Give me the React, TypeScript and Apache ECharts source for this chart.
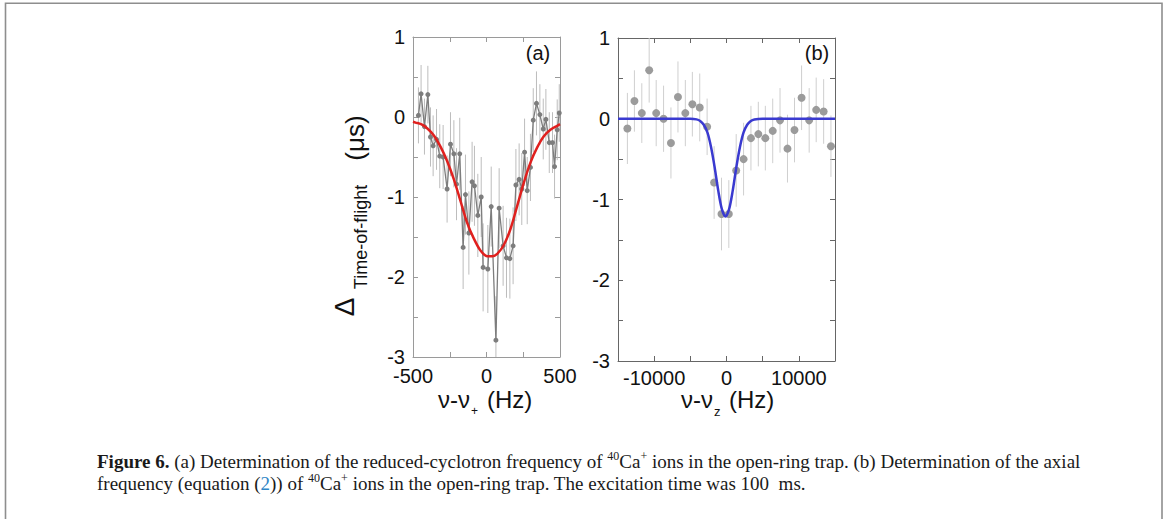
import React, { useEffect, useRef } from "react";
import * as echarts from "echarts";

// Panel (a): reduced-cyclotron resonance
const aX = [-463, -445, -422, -399, -381, -363, -340, -318, -295, -268, -245, -222, -204, -182, -159, -143, -120, -98, -82, -59, -36, -23, 9, 32, 64, 86, 113, 136, 159, 181, 200, 222, 240, 259, 277, 299, 318, 340, 363, 386, 404, 427, 449, 463, 481, 495];
const aY = [0.02, 0.29, -0.12, 0.28, -0.25, -0.36, -0.28, -0.49, -0.5, -0.9, -0.34, -0.46, -0.84, -0.46, -1.63, -0.97, -1.45, -0.81, -0.86, -1.23, -1.0, -1.88, -1.9, -1.12, -2.79, -1.14, -1.61, -1.76, -1.77, -1.61, -0.85, -0.78, -0.9, -0.44, -0.92, -0.63, -0.04, 0.17, 0.03, -0.15, -0.03, -0.32, -0.32, -0.62, -0.16, 0.05];
const aErr = [0.35, 0.36, 0.35, 0.36, 0.37, 0.38, 0.38, 0.4, 0.4, 0.42, 0.4, 0.42, 0.45, 0.45, 0.52, 0.5, 0.52, 0.5, 0.5, 0.52, 0.5, 0.55, 0.55, 0.5, 0.55, 0.5, 0.5, 0.5, 0.5, 0.48, 0.45, 0.45, 0.45, 0.42, 0.42, 0.42, 0.4, 0.4, 0.38, 0.38, 0.38, 0.38, 0.38, 0.4, 0.38, 0.36];
const aFitX = [-500, -483, -445, -404, -358, -313, -268, -222, -177, -132, -86, -41, 5, 39, 73, 118, 163, 209, 254, 299, 345, 390, 435, 481, 500];
const aFitY = [-0.06, -0.07, -0.09, -0.14, -0.23, -0.37, -0.55, -0.78, -1.05, -1.32, -1.52, -1.67, -1.74, -1.74, -1.71, -1.6, -1.4, -1.11, -0.82, -0.57, -0.38, -0.24, -0.16, -0.11, -0.09];

// Panel (b): axial resonance
const bX = [-13700, -12730, -11710, -10690, -9720, -8700, -7680, -6710, -5690, -4720, -3700, -2680, -1710, -690, 320, 1340, 2360, 3380, 4400, 5370, 6390, 7400, 8430, 9400, 10380, 11430, 12400, 13430, 14440];
const bY = [-0.12, 0.22, 0.07, 0.6, 0.07, 0.0, -0.3, 0.27, 0.07, 0.18, 0.14, -0.1, -0.79, -1.18, -1.18, -0.64, -0.5, -0.24, -0.19, -0.24, -0.15, -0.02, -0.37, -0.14, 0.26, -0.02, 0.11, 0.09, -0.34];
const bErr = [0.44, 0.38, 0.37, 0.4, 0.41, 0.41, 0.44, 0.44, 0.41, 0.4, 0.42, 0.35, 0.45, 0.45, 0.42, 0.45, 0.45, 0.4, 0.4, 0.4, 0.4, 0.4, 0.42, 0.4, 0.4, 0.4, 0.4, 0.4, 0.38];
const bFitX = [-15000, -5000, -4140, -3640, -3140, -2640, -2140, -1640, -1140, -640, -140, 360, 860, 1360, 1860, 2360, 2860, 3360, 3860, 5000, 15000];
const bFitY = [0, 0, -0.008, -0.027, -0.074, -0.17, -0.35, -0.6, -0.89, -1.12, -1.21, -1.12, -0.89, -0.6, -0.35, -0.17, -0.074, -0.027, -0.008, 0, 0];

// Axis ticks / labels
const aXLabels = [-500, 0, 500];
const bXLabels = [-10000, 0, 10000];
const yLabels = [-3, -2, -1, 0, 1];

const FONT = "Liberation Sans, Arial, sans-serif";
const SERIF = "Liberation Serif, Times New Roman, serif";

function axisPair(
  gridIndex: number,
  min: number,
  max: number,
  interval: number,
  labels: number[],
  color: string,
  isX: boolean,
  margin: number
) {
  const common = {
    type: "value",
    gridIndex,
    min,
    max,
    interval,
    splitLine: { show: false },
    axisLine: { show: true, onZero: false, lineStyle: { color, width: 1 } },
    axisTick: { show: true, inside: true, length: 5, lineStyle: { color, width: 1 } },
  };
  const main = {
    ...common,
    position: isX ? "bottom" : "left",
    axisLabel: {
      show: true,
      margin,
      fontSize: 20,
      fontFamily: FONT,
      color: "#111",
      showMinLabel: true,
      showMaxLabel: true,
      formatter: (v: number) => (labels.some((l) => Math.abs(l - v) < 1e-6) ? String(v) : ""),
    },
  };
  const other = {
    ...common,
    position: isX ? "top" : "right",
    axisLabel: { show: false },
  };
  return [main, other];
}

export default function App() {
  const ref = useRef<HTMLDivElement>(null);
  useEffect(() => {
    if (!ref.current) return;
    const chart = echarts.init(ref.current, undefined, { renderer: "svg" });

    const errRender = (stroke: string, lo: number) => (params: any, api: any) => {
      const x = api.value(0);
      const y = api.value(1);
      const e = api.value(2);
      const p1 = api.coord([x, y + e]);
      const p2 = api.coord([x, Math.max(y - e, lo)]);
      return {
        type: "line",
        shape: { x1: p1[0], y1: p1[1], x2: p2[0], y2: p2[1] },
        style: { stroke, lineWidth: 1 },
      };
    };

    const xa = axisPair(0, -500, 500, 250, aXLabels, "#9a9a9a", true, 9);
    const xb = axisPair(1, -15000, 15000, 5000, bXLabels, "#666", true, 7);
    const ya = axisPair(0, -3, 1, 0.5, yLabels, "#9a9a9a", false, 8);
    const yb = axisPair(1, -3, 1, 0.5, yLabels, "#666", false, 8);

    const option: any = {
      animation: false,
      backgroundColor: "#fff",
      grid: [
        { left: 413, top: 37, width: 147, height: 320 },
        { left: 618, top: 38, width: 217, height: 323 },
      ],
      xAxis: [...xa, ...xb],
      yAxis: [...ya, ...yb],
      series: [
        {
          type: "custom",
          xAxisIndex: 0,
          yAxisIndex: 0,
          clip: true,
          renderItem: errRender("#bdbdbd", -3),
          encode: { x: 0, y: 1 },
          data: aX.map((x, i) => [x, aY[i], aErr[i]]),
          z: 1,
        },
        {
          type: "line",
          xAxisIndex: 0,
          yAxisIndex: 0,
          data: aX.map((x, i) => [x, aY[i]]),
          symbol: "circle",
          symbolSize: 5,
          lineStyle: { color: "#7d7d7d", width: 1.3 },
          itemStyle: { color: "#7d7d7d" },
          z: 2,
        },
        {
          type: "line",
          xAxisIndex: 0,
          yAxisIndex: 0,
          data: aFitX.map((x, i) => [x, aFitY[i]]),
          smooth: 0.3,
          showSymbol: false,
          symbol: "none",
          lineStyle: { color: "#e0201e", width: 2.5 },
          z: 3,
        },
        {
          type: "custom",
          xAxisIndex: 2,
          yAxisIndex: 2,
          clip: true,
          renderItem: errRender("#cfcfcf", -3),
          encode: { x: 0, y: 1 },
          data: bX.map((x, i) => [x, bY[i], bErr[i]]),
          z: 1,
        },
        {
          type: "scatter",
          xAxisIndex: 2,
          yAxisIndex: 2,
          data: bX.map((x, i) => [x, bY[i]]),
          symbol: "circle",
          symbolSize: 8,
          itemStyle: { color: "#9b9b9b", opacity: 1 },
          z: 2,
        },
        {
          type: "line",
          xAxisIndex: 2,
          yAxisIndex: 2,
          data: bFitX.map((x, i) => [x, bFitY[i]]),
          smooth: 0.3,
          showSymbol: false,
          symbol: "none",
          lineStyle: { color: "#3a3ad0", width: 2.5 },
          z: 3,
        },
      ],
      graphic: [
        {
          type: "rect",
          shape: { x: 5.5, y: 3.3, width: 1156.5, height: 600 },
          style: { fill: "none", stroke: "#8e8e8e", lineWidth: 1.6 },
          silent: true,
        },
        {
          type: "text",
          x: 538,
          y: 53,
          style: { text: "(a)", fontSize: 20, fontFamily: FONT, fill: "#111", textAlign: "center", align: "center", textVerticalAlign: "middle", verticalAlign: "middle" },
        },
        {
          type: "text",
          x: 817,
          y: 53,
          style: { text: "(b)", fontSize: 20, fontFamily: FONT, fill: "#111", textAlign: "center", align: "center", textVerticalAlign: "middle", verticalAlign: "middle" },
        },
        // y-axis title (rotated)
        {
          type: "text",
          x: 344,
          y: 307,
          rotation: Math.PI / 2,
          style: { text: "Δ", fontSize: 28, fontFamily: FONT, fill: "#111", textAlign: "center", align: "center", textVerticalAlign: "middle", verticalAlign: "middle" },
        },
        {
          type: "text",
          x: 361,
          y: 237,
          rotation: Math.PI / 2,
          style: { text: "Time-of-flight", fontSize: 18, fontFamily: FONT, fill: "#111", textAlign: "center", align: "center", textVerticalAlign: "middle", verticalAlign: "middle" },
        },
        {
          type: "text",
          x: 355,
          y: 138,
          rotation: Math.PI / 2,
          style: { text: "(μs)", fontSize: 26, fontFamily: FONT, fill: "#111", textAlign: "center", align: "center", textVerticalAlign: "middle", verticalAlign: "middle" },
        },
        // x-axis titles
        {
          type: "text",
          x: 470,
          y: 399,
          style: { text: "ν-ν", fontSize: 24, fontFamily: FONT, fill: "#111", textAlign: "right", align: "right", textVerticalAlign: "middle", verticalAlign: "middle" },
        },
        {
          type: "text",
          x: 471,
          y: 411,
          style: { text: "+", fontSize: 12, fontFamily: FONT, fill: "#111", textAlign: "left", align: "left", textVerticalAlign: "middle", verticalAlign: "middle" },
        },
        {
          type: "text",
          x: 487,
          y: 399,
          style: { text: "(Hz)", fontSize: 24, fontFamily: FONT, fill: "#111", textAlign: "left", align: "left", textVerticalAlign: "middle", verticalAlign: "middle" },
        },
        {
          type: "text",
          x: 713,
          y: 399,
          style: { text: "ν-ν", fontSize: 24, fontFamily: FONT, fill: "#111", textAlign: "right", align: "right", textVerticalAlign: "middle", verticalAlign: "middle" },
        },
        {
          type: "text",
          x: 714,
          y: 411,
          style: { text: "z", fontSize: 13, fontFamily: FONT, fill: "#111", textAlign: "left", align: "left", textVerticalAlign: "middle", verticalAlign: "middle" },
        },
        {
          type: "text",
          x: 729,
          y: 399,
          style: { text: "(Hz)", fontSize: 24, fontFamily: FONT, fill: "#111", textAlign: "left", align: "left", textVerticalAlign: "middle", verticalAlign: "middle" },
        },
        // caption
        {
          type: "text",
          x: 97,
          y: 450,
          style: {
            text:
              "{b|Figure 6.} (a) Determination of the reduced-cyclotron frequency of {sup|40}Ca{sup|+} ions in the open-ring trap. (b) Determination of the axial\n" +
              "frequency (equation ({lk|2})) of {sup|40}Ca{sup|+} ions in the open-ring trap. The excitation time was 100  ms.",
            fontSize: 19,
            fontFamily: SERIF,
            fill: "#1a1a1a",
            lineHeight: 22,
            textAlign: "left",
            align: "left",
            textVerticalAlign: "top",
            verticalAlign: "top",
            rich: {
              b: { fontWeight: "bold", fontSize: 19, fontFamily: SERIF, lineHeight: 22, fill: "#1a1a1a" },
              sup: { fontSize: 12, fontFamily: SERIF, lineHeight: 12, verticalAlign: "top", fill: "#1a1a1a" },
              lk: { fontSize: 19, fontFamily: SERIF, lineHeight: 22, fill: "#2f86c6" },
            },
          },
        },
      ],
    };
    chart.setOption(option);
    return () => chart.dispose();
  }, []);
  return (
    <div
      ref={ref}
      style={{ position: "fixed", left: 0, top: 0, width: 1165, height: 519, background: "#fff" }}
    />
  );
}
